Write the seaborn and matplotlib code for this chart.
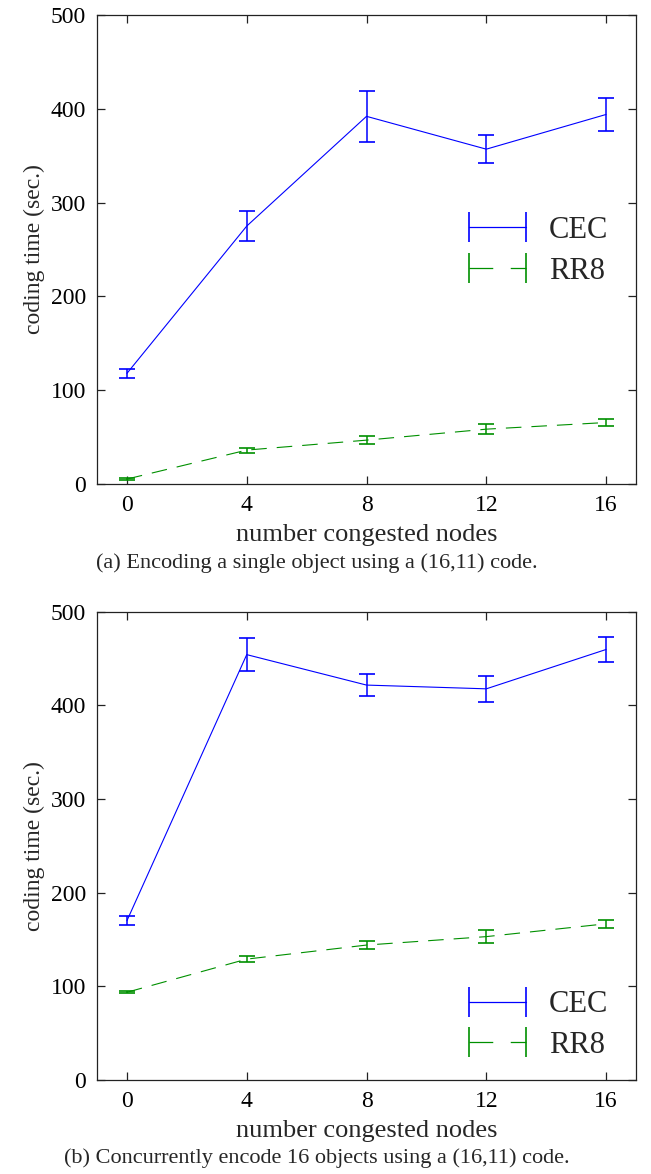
import numpy as np
import pandas as pd
import matplotlib
matplotlib.use("Agg")
import matplotlib.pyplot as plt
import seaborn as sns
from matplotlib.legend_handler import HandlerErrorbar
from matplotlib.container import ErrorbarContainer

# ---- data ----
nodes = [0, 4, 8, 12, 16]
series_names = ["CEC", "RR8"]

cec_a = [118, 275, 392, 357, 394]
cec_a_err = [4.6, 15.6, 27, 15, 17.5]
rr8_a = [5.3, 36.2, 46.8, 58.5, 65.6]
rr8_a_err = [1.5, 2.7, 4, 5.3, 3.7]

cec_b = [170, 454, 421.5, 417.5, 459.5]
cec_b_err = [5, 17.7, 12, 13.7, 13.7]
rr8_b = [93.6, 129, 144, 153, 166.7]
rr8_b_err = [1.2, 3.5, 4, 7, 4]

captions = ["(a) Encoding a single object using a (16,11) code.",
            "(b) Concurrently encode 16 objects using a (16,11) code."]
xlabel = "number congested nodes"
ylabel = "coding time (sec.)"
xticks = [0, 4, 8, 12, 16]
yticks = [0, 100, 200, 300, 400, 500]

# ---- style ----
sns.set_theme(style="ticks")
plt.rcParams["font.family"] = ["Liberation Serif", "DejaVu Serif"]
plt.rcParams["axes.linewidth"] = 0.9
plt.rcParams["axes.edgecolor"] = "#222222"

BLUE = "#0000ff"
GREEN = "#009000"
palette = {"CEC": BLUE, "RR8": GREEN}

fig = plt.figure(figsize=(6.51, 11.74), dpi=100)

panels = [
    (cec_a, cec_a_err, rr8_a, rr8_a_err, [0.149, 0.5877, 0.828, 0.3995], (0.999, 0.497), 0.5205),
    (cec_b, cec_b_err, rr8_b, rr8_b_err, [0.149, 0.0801, 0.828, 0.3990], (0.999, 0.117), 0.0135),
]

for i, (cec, cec_err, rr8, rr8_err, rect, lpos, capy) in enumerate(panels):
    ax = fig.add_axes(rect)
    df = pd.DataFrame({
        "nodes": nodes * 2,
        "time": list(cec) + list(rr8),
        "series": ["CEC"] * len(nodes) + ["RR8"] * len(nodes),
    })
    sns.lineplot(data=df, x="nodes", y="time", hue="series", style="series",
                 palette=palette, dashes={"CEC": "", "RR8": (14, 9)},
                 linewidth=0.8, legend=False, ax=ax)
    ax.errorbar(nodes, cec, yerr=cec_err, fmt="none", ecolor=BLUE,
                capsize=6, elinewidth=1.1, capthick=1.2)
    ax.errorbar(nodes, rr8, yerr=rr8_err, fmt="none", ecolor=GREEN,
                capsize=6, elinewidth=1.1, capthick=1.2)

    # legend proxies (gnuplot-like errorbar sample)
    h1 = ax.errorbar([np.nan], [np.nan], xerr=[1], color=BLUE, lw=0.9,
                     capsize=10.5, capthick=1.2, elinewidth=0, label="CEC")
    h2 = ax.errorbar([np.nan], [np.nan], xerr=[1], color=GREEN, lw=0.9,
                     ls=(0, (19, 14)), capsize=10.5, capthick=1.2,
                     elinewidth=0, label="RR8")
    ax.legend(handles=[h1, h2], labels=series_names, loc="center right",
              bbox_to_anchor=lpos, frameon=False, fontsize=22,
              handlelength=1.86, handletextpad=0.75, labelspacing=0.38,
              handler_map={ErrorbarContainer: HandlerErrorbar(xerr_size=0.93)})

    ax.set_xlim(-1, 17)
    ax.set_ylim(0, 500)
    ax.set_xticks(xticks)
    ax.set_yticks(yticks)
    ax.tick_params(direction="in", top=True, right=True, length=6,
                   width=0.9, labelsize=17, pad=8, colors="#222222",
                   labelcolor="black")
    ax.set_xlabel(xlabel, fontsize=19, labelpad=6)
    ax.set_ylabel(ylabel, fontsize=17, labelpad=4)
    fig.text(0.486, capy, captions[i], ha="center", va="center", fontsize=16)

fig.savefig("out.png", dpi=100)
